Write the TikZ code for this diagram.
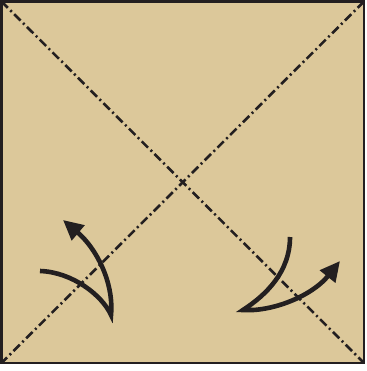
\documentclass[tikz,border=0pt]{standalone}
\usetikzlibrary{arrows.meta}
\definecolor{paper}{RGB}{220,200,154}
\definecolor{ink}{RGB}{35,31,32}
\begin{document}
\begin{tikzpicture}[x=1pt,y=-1pt,
  mountain/.style={ink,line width=2.6pt,dash pattern=on 9pt off 3.5pt on 2pt off 3.5pt},
  foldarrow/.style={ink,line width=4.6pt,-{Triangle[length=20pt,width=19pt]}}]
\useasboundingbox (0,0) rectangle (366,371);
\coordinate (tl) at (1.5,1.5);
\coordinate (tr) at (364,1.5);
\coordinate (br) at (364,363);
\coordinate (bl) at (1.5,363);
\fill[paper] (tl) rectangle (br);
\draw[mountain] (tl) -- (br);
\draw[mountain] (tr) -- (bl);
\draw[ink,line width=2.8pt] (tl) rectangle (br);
% left arrow
\coordinate (la) at (40,271);
\coordinate (lb) at (111,315);
\coordinate (lc) at (63,220);
\draw[foldarrow,line join=miter] (la) .. controls (72,272) and (102,295) .. (lb)
  .. controls (114,282) and (96,248) .. (lc);
% right arrow
\coordinate (ra) at (290,237);
\coordinate (rb) at (243,310);
\coordinate (rc) at (340,261);
\draw[foldarrow,line join=miter] (ra) .. controls (290,272) and (266,295) .. (rb)
  .. controls (272,312) and (312,296) .. (rc);
\end{tikzpicture}
\end{document}
